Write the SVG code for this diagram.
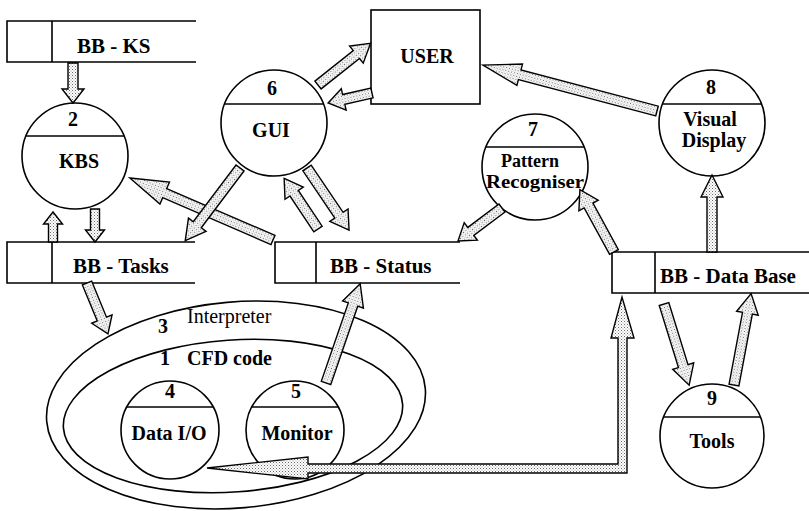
<svg xmlns="http://www.w3.org/2000/svg" width="809" height="511" viewBox="0 0 809 511">
<defs>
<pattern id="dots" width="3" height="3" patternUnits="userSpaceOnUse">
<rect width="3" height="3" fill="#fff"/>
<rect width="1" height="1" fill="#6a6a6a"/>
<rect x="1.5" y="1.5" width="1" height="1" fill="#9a9a9a"/>
</pattern>
<style>
.ln{fill:none;stroke:#000;stroke-width:1.6}
.nd{fill:#fff;stroke:#000;stroke-width:1.6}
.ar{fill:url(#dots);stroke:#000;stroke-width:1.4;stroke-linejoin:miter}
.t{font-family:"Liberation Serif","Times New Roman",serif;font-size:20px;font-weight:bold;fill:#000}
.bb{font-size:21px}
.c{text-anchor:middle}
.n{font-weight:normal}
.s{font-size:18px}
</style>
</defs>
<rect width="809" height="511" fill="#fff"/>

<g id="interpreter">
<ellipse class="ln" cx="236" cy="405" rx="190" ry="103" transform="rotate(-5 236 405)"/>
<text class="t" x="158" y="333">3</text>
<text class="t n" x="187" y="323" font-size="21">Interpreter</text>
</g>
<g id="cfd-code">
<ellipse class="ln" cx="233" cy="416" rx="170" ry="76" transform="rotate(-4 233 416)"/>
<text class="t" x="160" y="365">1</text>
<text class="t" x="187" y="365">CFD code</text>
</g>

<g id="bb-ks">
<path class="ln" d="M196,21H7V62H196M52,21V62"/>
<text class="t bb" x="77" y="53">BB - KS</text>
</g>
<g id="bb-tasks">
<path class="ln" d="M195,242H7V283H195M52,242V283"/>
<text class="t bb" x="73" y="273">BB - Tasks</text>
</g>
<g id="bb-status">
<path class="ln" d="M460,242H275V283H460M316,242V283"/>
<text class="t bb" x="330" y="273">BB - Status</text>
</g>
<g id="bb-database">
<path class="ln" d="M809,252H612V293H809M655,252V293"/>
<text class="t bb" x="660" y="283">BB - Data Base</text>
</g>

<g id="user">
<rect class="nd" x="371" y="10" width="109" height="94"/>
<text class="t c" x="427" y="63">USER</text>
</g>

<g id="kbs">
<circle class="nd" cx="75" cy="156" r="53"/>
<line class="ln" x1="26" y1="136" x2="124" y2="136"/>
<text class="t c" x="73" y="126">2</text>
<text class="t c" x="79" y="168">KBS</text>
</g>
<g id="gui">
<circle class="nd" cx="274" cy="123" r="53"/>
<line class="ln" x1="225" y1="104" x2="323" y2="104"/>
<text class="t c" x="272" y="95">6</text>
<text class="t c" x="271" y="137">GUI</text>
</g>
<g id="visual-display">
<circle class="nd" cx="712" cy="123" r="53"/>
<line class="ln" x1="663" y1="104" x2="761" y2="104"/>
<text class="t c" x="711" y="94">8</text>
<text class="t c" x="710" y="126">Visual</text>
<text class="t c" x="714" y="147">Display</text>
</g>
<g id="pattern-recogniser">
<circle class="nd" cx="535" cy="167" r="53"/>
<line class="ln" x1="486" y1="147" x2="584" y2="147"/>
<text class="t c" x="533" y="136">7</text>
<text class="t c s" x="530" y="167">Pattern</text>
<text class="t c s" x="535" y="188" textLength="98" lengthAdjust="spacingAndGlyphs">Recogniser</text>
</g>
<g id="data-io">
<circle class="nd" cx="170" cy="430" r="49"/>
<line class="ln" x1="127" y1="407" x2="213" y2="407"/>
<text class="t c" x="170" y="398">4</text>
<text class="t c" x="169" y="440">Data I/O</text>
</g>
<g id="monitor">
<circle class="nd" cx="295" cy="430" r="49"/>
<line class="ln" x1="252" y1="407" x2="338" y2="407"/>
<text class="t c" x="296" y="398">5</text>
<text class="t c" x="297" y="440">Monitor</text>
</g>
<g id="tools">
<circle class="nd" cx="712" cy="436" r="52"/>
<line class="ln" x1="664" y1="417" x2="760" y2="417"/>
<text class="t c" x="712" y="405">9</text>
<text class="t c" x="712" y="448">Tools</text>
</g>

<g id="connectors">
<path class="ar" transform="translate(73,63) rotate(90)" d="M0,-5H26V-11L40,0L26,11V5H0Z"/>
<path class="ar" transform="translate(318,85) rotate(-38.4)" d="M0,-5H49V-11L67,0L49,11V5H0Z"/>
<path class="ar" transform="translate(372,93) rotate(167.2)" d="M0,-5H29V-11L45,0L29,11V5H0Z"/>
<path class="ar" transform="translate(657,111) rotate(-165.2)" d="M0,-5H142V-11L180,0L142,11V5H0Z"/>
<path class="ar" transform="translate(53,242) rotate(-90)" d="M0,-4.5H18V-9.5L30,0L18,9.5V4.5H0Z"/>
<path class="ar" transform="translate(95,209) rotate(90)" d="M0,-4.5H21V-9.5L33,0L21,9.5V4.5H0Z"/>
<path class="ar" transform="translate(273,240) rotate(-156.6)" d="M0,-5H118V-12L156,0L118,12V5H0Z"/>
<path class="ar" transform="translate(240,168) rotate(127)" d="M0,-5H71V-11L91,0L71,11V5H0Z"/>
<path class="ar" transform="translate(318,229) rotate(-123.7)" d="M0,-5H43V-11L61,0L43,11V5H0Z"/>
<path class="ar" transform="translate(307,168) rotate(55.9)" d="M0,-5H57V-11L75,0L57,11V5H0Z"/>
<path class="ar" transform="translate(502,208) rotate(143.1)" d="M0,-5H39V-11L55,0L39,11V5H0Z"/>
<path class="ar" transform="translate(614,252) rotate(-118.7)" d="M0,-5H53V-11L71,0L53,11V5H0Z"/>
<path class="ar" transform="translate(712,252) rotate(-90)" d="M0,-5H55V-11L77,0L55,11V5H0Z"/>
<path class="ar" transform="translate(87,283) rotate(67.6)" d="M0,-5H39V-11L55,0L39,11V5H0Z"/>
<path class="ar" transform="translate(326,383) rotate(-71)" d="M0,-5H83V-11L105,0L83,11V5H0Z"/>
<path class="ar" transform="translate(664,304) rotate(72.8)" d="M0,-5H65V-11L85,0L65,11V5H0Z"/>
<path class="ar" transform="translate(734,385) rotate(-79.4)" d="M0,-5H73V-11L93,0L73,11V5H0Z"/>
<path class="ar" d="M207,468L308,457V464H618V338H611L622,297L634,338H627V473H308V479Z"/>
</g>
</svg>
